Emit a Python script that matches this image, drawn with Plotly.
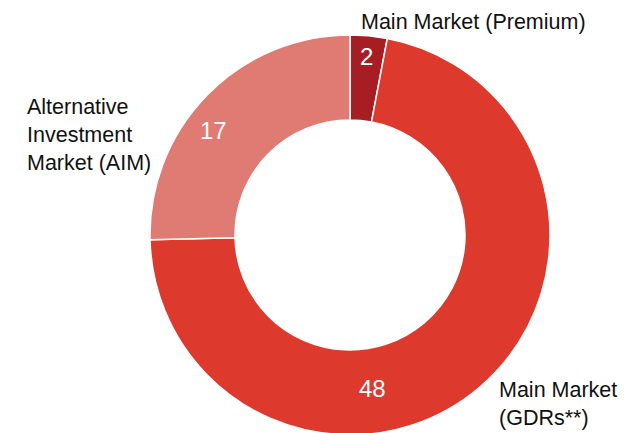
import plotly.graph_objects as go

# listings by market segment
labels = ["Main Market (Premium)", "Main Market (GDRs**)", "Alternative Investment Market (AIM)"]
values = [2, 48, 17]
colors = ["#a61e24", "#dd3a2d", "#e07b73"]

# outside label text (line breaks as in the source)
label_text = ["Main Market (Premium)", "Main Market<br>(GDRs**)", "Alternative<br>Investment<br>Market (AIM)"]

W, H = 639, 433
OFF = 8  # page body margin
L, T, SIZE = 150 - OFF, 35 - OFF, 400


def px(x, y):
    # page pixel position -> paper coords
    return (x - OFF - L) / SIZE, (T + SIZE - (y - OFF)) / SIZE


fig = go.Figure(go.Pie(
    labels=labels,
    values=values,
    marker=dict(colors=colors, line=dict(color="white", width=1.5)),
    hole=0.575,
    sort=False,
    direction="clockwise",
    rotation=0,
    textinfo="none",
    hoverinfo="label+value",
    showlegend=False,
))

font = "Liberation Sans, Arial, Helvetica, sans-serif"

# value labels inside the ring
num_pos = [(366, 56), (372, 388), (213, 130)]
for v, (x, y) in zip(values, num_pos):
    ax, ay = px(x, y)
    fig.add_annotation(x=ax, y=ay, xref="paper", yref="paper", text=str(v),
                       showarrow=False, xanchor="center", yanchor="middle",
                       font=dict(family=font, size=24, color="white"))

# category labels outside
lab_pos = [(360, 22), (498, 404), (26, 135)]
for t, (x, y) in zip(label_text, lab_pos):
    ax, ay = px(x, y)
    fig.add_annotation(x=ax, y=ay, xref="paper", yref="paper", text=t,
                       showarrow=False, xanchor="left", yanchor="middle", align="left",
                       borderpad=0,
                       font=dict(family=font, size=21.5, color="#111111"))

fig.update_layout(
    width=W, height=H,
    margin=dict(l=L, r=W - L - SIZE, t=T, b=H - T - SIZE),
    paper_bgcolor="white",
    plot_bgcolor="white",
)

fig.write_html("out.html")
